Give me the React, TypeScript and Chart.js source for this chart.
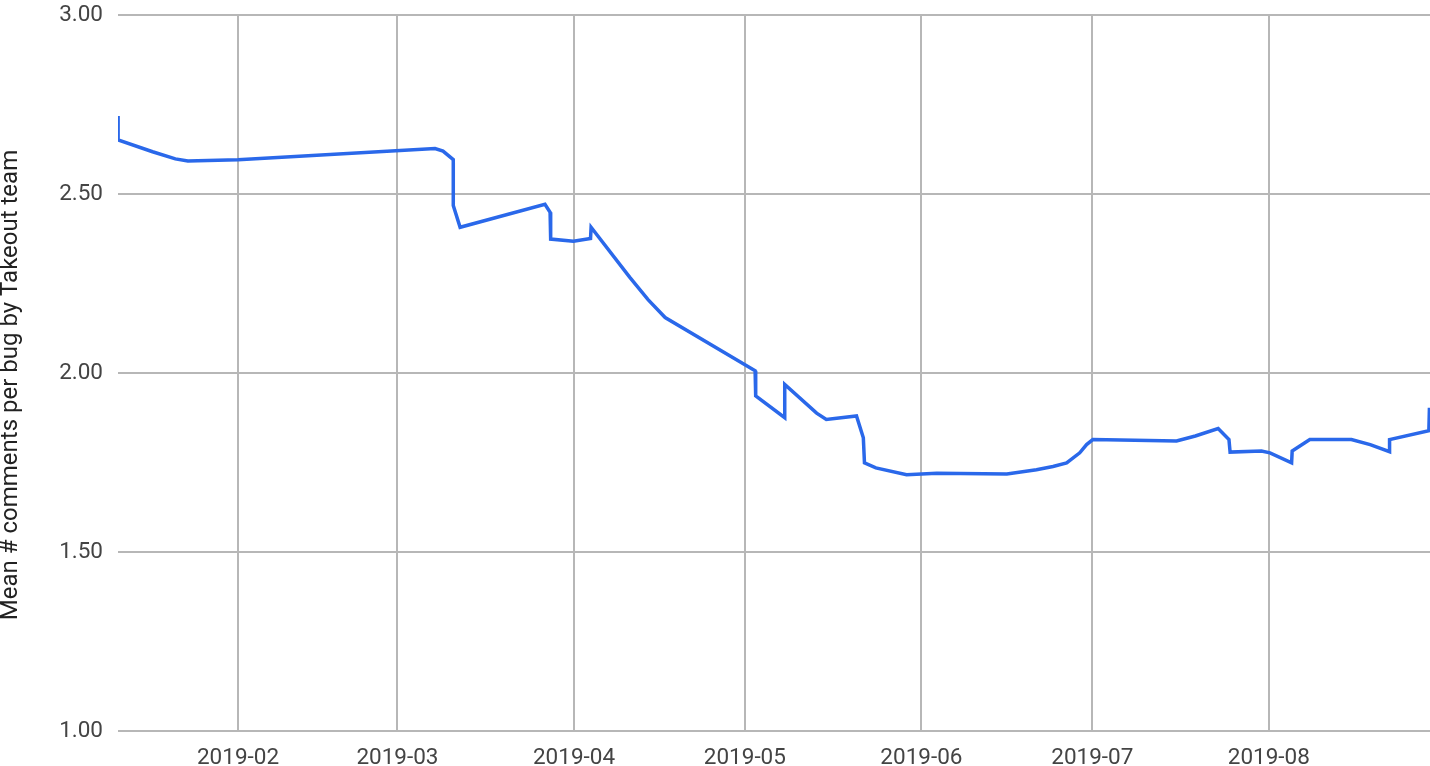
import React, { useEffect, useRef } from "react";
import { Chart, registerables } from "chart.js";

Chart.register(...registerables);

// x values: day of year 2019 (0 = 2019-01-01), fractional allowed
const dayOfYear: number[] = [
  9.95, 9.95, 16.0, 20.0, 22.2, 31.0, 65.6, 67.0, 68.8, 68.8, 70.0, 84.9, 85.8,
  85.9, 89.9, 92.9, 93.0, 99.8, 103.0, 106.0, 121.8, 121.9, 127.0, 127.0, 132.6,
  134.3, 139.6, 140.8, 141.0, 143.0, 148.4, 153.7, 166.0, 171.2, 174.1, 176.5,
  178.8, 180.0, 181.1, 195.8, 199.1, 203.1, 205.0, 205.2, 210.7, 212.2, 216.0,
  216.1, 219.2, 226.5, 229.8, 233.2, 233.2, 240.1, 240.2,
];
const meanComments: number[] = [
  2.718, 2.651, 2.618, 2.598, 2.592, 2.596, 2.627, 2.62, 2.596, 2.468, 2.407,
  2.471, 2.449, 2.374, 2.368, 2.376, 2.407, 2.267, 2.205, 2.155, 2.006, 1.936,
  1.875, 1.968, 1.888, 1.87, 1.88, 1.819, 1.749, 1.735, 1.716, 1.72, 1.718,
  1.73, 1.739, 1.749, 1.777, 1.8, 1.814, 1.81, 1.824, 1.845, 1.814, 1.779,
  1.782, 1.777, 1.749, 1.782, 1.814, 1.814, 1.8, 1.78, 1.814, 1.839, 1.903,
];

const monthStartDays: number[] = [31, 59, 90, 120, 151, 181, 212];
const monthLabels: string[] = [
  "2019-02", "2019-03", "2019-04", "2019-05", "2019-06", "2019-07", "2019-08",
];
const yTicks: number[] = [1.0, 1.5, 2.0, 2.5, 3.0];
const yTitle = "Mean # comments per bug by Takeout team";

export default function App() {
  const ref = useRef<HTMLCanvasElement | null>(null);

  useEffect(() => {
    if (!ref.current) return;
    Chart.defaults.font.family = "Roboto";

    const titlePlugin = {
      id: "yTitle",
      afterDraw(chart: any) {
        const ctx = chart.ctx;
        ctx.save();
        ctx.translate(11, 385);
        ctx.rotate(-Math.PI / 2);
        ctx.font = "24px Roboto";
        ctx.fillStyle = "#222222";
        ctx.textAlign = "center";
        ctx.textBaseline = "middle";
        ctx.fillText(yTitle, 0, 0);
        ctx.restore();
      },
    };

    const chart = new Chart(ref.current, {
      type: "line",
      data: {
        datasets: [
          {
            data: dayOfYear.map((d, i) => ({ x: d, y: meanComments[i] })),
            borderColor: "#2a68ea",
            borderWidth: 3.5,
            pointRadius: 0,
            tension: 0,
            fill: false,
          },
        ],
      },
      options: {
        responsive: false,
        animation: false,
        layout: { padding: 0 },
        plugins: { legend: { display: false }, tooltip: { enabled: false } },
        scales: {
          x: {
            type: "linear",
            min: 9.93,
            max: 240.3,
            border: { display: false },
            grid: { color: "#b7b7b7", lineWidth: 2, drawTicks: false },
            afterBuildTicks: (scale: any) => {
              scale.ticks = monthStartDays.map((v) => ({ value: v }));
            },
            afterFit: (scale: any) => {
              scale.height = 35;
              scale.paddingLeft = 0;
              scale.paddingRight = 0;
              scale.paddingTop = 0;
              scale.paddingBottom = 0;
            },
            ticks: {
              padding: 14,
              autoSkip: false,
              maxRotation: 0,
              color: "#444444",
              font: { size: 22.5 },
              callback: (v: any) => {
                const i = monthStartDays.indexOf(Number(v));
                return i >= 0 ? monthLabels[i] : "";
              },
            },
          },
          y: {
            min: 1,
            max: 3,
            border: { display: false },
            grid: { color: "#b7b7b7", lineWidth: 2, drawTicks: false },
            afterBuildTicks: (scale: any) => {
              scale.ticks = yTicks.map((v) => ({ value: v }));
            },
            afterFit: (scale: any) => {
              scale.width = 118;
              scale.paddingTop = 15;
              scale.paddingBottom = 0;
              scale.paddingLeft = 0;
              scale.paddingRight = 0;
            },
            ticks: {
              padding: 15,
              color: "#444444",
              font: { size: 22.5 },
              callback: (v: any) => Number(v).toFixed(2),
            },
          },
        },
      },
      plugins: [titlePlugin],
    });
    return () => chart.destroy();
  }, []);

  return (
    <div style={{ position: "absolute", left: 0, top: 0, width: 1430, height: 766, background: "#fff" }}>
      <canvas ref={ref} width={1430} height={766} />
    </div>
  );
}
